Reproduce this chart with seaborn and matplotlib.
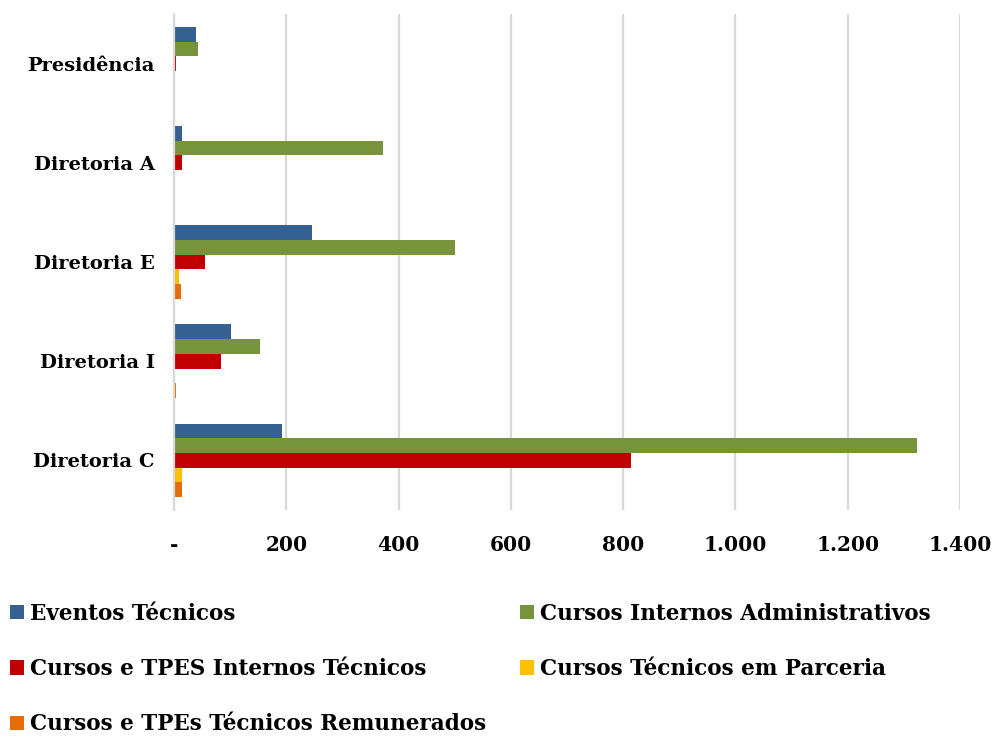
import numpy as np
import pandas as pd
import matplotlib
matplotlib.use("Agg")
import matplotlib.pyplot as plt
import seaborn as sns

# categories (top to bottom) and series values
unidades = ["Presidência", "Diretoria A", "Diretoria E", "Diretoria I", "Diretoria C"]
series = ["Eventos Técnicos", "Cursos Internos Administrativos",
          "Cursos e TPES Internos Técnicos", "Cursos Técnicos em Parceria",
          "Cursos e TPEs Técnicos Remunerados"]
eventos = [40, 15, 246, 102, 192]
internos_adm = [42, 372, 501, 154, 1323]
internos_tec = [4, 14, 55, 84, 814]
parceria = [2, 0, 9, 2, 14]
remunerados = [0, 0, 12, 3, 14]
cores = ["#35608F", "#77933C", "#C00000", "#FFC000", "#E46C0A"]
xticks = [0, 200, 400, 600, 800, 1000, 1200, 1400]

df = pd.DataFrame({"Unidade": unidades,
                   series[0]: eventos, series[1]: internos_adm,
                   series[2]: internos_tec, series[3]: parceria,
                   series[4]: remunerados})
df = df.melt(id_vars="Unidade", var_name="Tipo", value_name="Qtd")

sns.set_style("white")
plt.rcParams["font.family"] = ["DejaVu Serif"]
plt.rcParams["font.weight"] = "bold"
plt.rcParams["text.color"] = "black"
plt.rcParams["xtick.color"] = "black"
plt.rcParams["ytick.color"] = "black"

fig = plt.figure(figsize=(9.92, 7.38), dpi=100)
ax = fig.add_axes([174 / 992, 228 / 738, 786 / 992, 496 / 738])

sns.barplot(data=df, y="Unidade", x="Qtd", hue="Tipo", order=unidades,
            hue_order=series, palette=cores, saturation=1, orient="h",
            width=0.74, gap=0, linewidth=0, ax=ax)

ax.set_xlim(0, 1400)
ax.set_ylim(4.5, -0.5)
ax.set_xticks(xticks)
ax.set_xticklabels(["-" if v == 0 else f"{v:,}".replace(",", ".") for v in xticks])
ax.grid(axis="x", color="#D9D9D9", linewidth=1.6)
ax.set_axisbelow(True)
for s in ["top", "right", "bottom"]:
    ax.spines[s].set_visible(False)
ax.spines["left"].set_color("#D9D9D9")
ax.spines["left"].set_linewidth(1.6)
ax.tick_params(axis="x", length=0, pad=18, labelsize=14.5)
ax.tick_params(axis="y", length=0, pad=14, labelsize=14)
ax.set_xlabel("")
ax.set_ylabel("")

h, l = ax.get_legend_handles_labels()
ax.get_legend().remove()
idx = [0, 2, 4, 1, 3]
fig.legend([h[i] for i in idx], [l[i] for i in idx], ncol=2, loc="upper left",
           bbox_to_anchor=(0.001, 0.195), frameon=False, fontsize=15.5,
           handlelength=0.65, handleheight=0.65, handletextpad=0.3,
           labelspacing=1.55, columnspacing=1.55, borderaxespad=0)

fig.savefig("out.png", dpi=100)
